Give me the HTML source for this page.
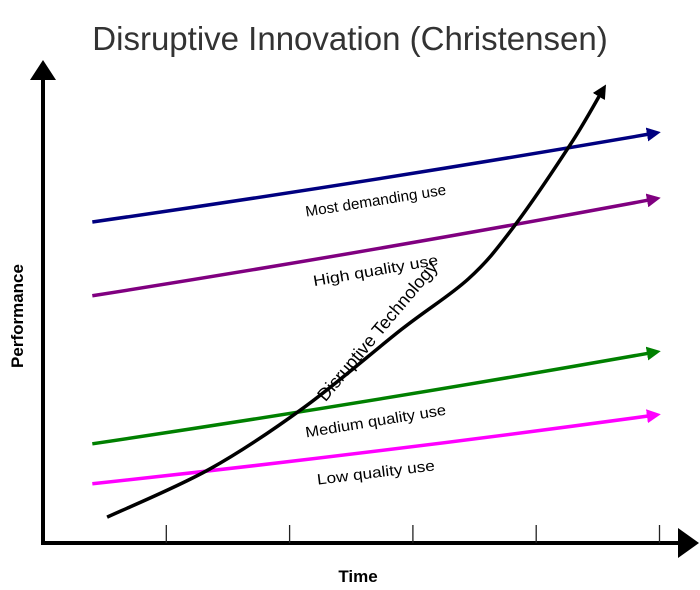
<!DOCTYPE html>
<html><head><meta charset="utf-8"><style>
html,body{margin:0;padding:0;background:#fff;}
svg{display:block;font-family:"Liberation Sans",sans-serif;}
</style></head><body>
<svg width="700" height="590" viewBox="0 0 700 590">
<defs>
<marker id="ah" markerWidth="4" markerHeight="4" refX="2.2" refY="2" orient="auto" markerUnits="strokeWidth"><path d="M0,0 L4,2 L0,4 z" fill="context-stroke"/></marker>
</defs>
<text x="350" y="50" text-anchor="middle" font-size="33" fill="#333">Disruptive Innovation (Christensen)</text>
<g id="axes">
<line x1="43" y1="80" x2="43" y2="544" stroke="#000" stroke-width="4"/>
<polygon points="30,80 56,80 43,60" fill="#000"/>
<line x1="41" y1="543" x2="680" y2="543" stroke="#000" stroke-width="4"/>
<polygon points="678,528 678,558 699,543" fill="#000"/>
</g>
<g id="ticks"></g>
<g id="series"></g>
<text x="358" y="582" text-anchor="middle" font-size="17" font-weight="bold">Time</text>
<text transform="translate(23,316) rotate(-90)" text-anchor="middle" font-size="17" font-weight="bold">Performance</text>
</svg>
<script>
const tickValues=[1,2,3,4,5];
const seriesNames=["Most demanding use","High quality use","Medium quality use","Low quality use"];
const seriesColors=["#000080","#800080","#008000","#ff00ff"];
const startValues=[6.83,5.26,2.11,1.26];
const endValues=[8.72,7.32,4.06,2.72];
const lineTimes=[0.4,4.96];
const techTimes=[0.52,1.35,2.12,2.91,3.45,3.81,4.28,4.54];
const techValues=[0.55,1.57,2.89,4.55,5.62,6.70,8.49,9.64];
const NS="http://www.w3.org/2000/svg";
const xs=t=>43+t*123.3, ys=p=>543-p*47;
const tg=document.getElementById('ticks');
tickValues.forEach(v=>{
  const l=document.createElementNS(NS,'line');
  l.setAttribute('x1',xs(v));l.setAttribute('x2',xs(v));l.setAttribute('y1',525);l.setAttribute('y2',543);
  l.setAttribute('stroke','#222');l.setAttribute('stroke-width','1.3');
  
  
  tg.appendChild(l);
});
const sg=document.getElementById('series');
seriesNames.forEach((n,i)=>{
  const x1=xs(lineTimes[0]),y1=ys(startValues[i]),x2=xs(lineTimes[1]),y2=ys(endValues[i]);
  const p=document.createElementNS(NS,'path');
  const mx=(x1+x2)/2,my=(y1+y2)/2+4;
  p.setAttribute('d',`M${x1},${y1} Q${mx},${my} ${x2},${y2}`);
  p.setAttribute('stroke',seriesColors[i]);p.setAttribute('stroke-width','3.5');p.setAttribute('fill','none');
  p.setAttribute('marker-end','url(#ah)');
  
  
  sg.appendChild(p);
  const ang=Math.atan2(y2-y1,x2-x1)*180/Math.PI;
  const lx=(x1+x2)/2+3, ly=(y1+y2)/2+28;
  const t=document.createElementNS(NS,'text');
  t.setAttribute('transform',`translate(${lx},${ly}) rotate(${ang})`);
  t.setAttribute('text-anchor','middle');t.setAttribute('font-size','15');
  t.setAttribute('textLength', n.length*7.9);t.setAttribute('lengthAdjust','spacingAndGlyphs');
  t.textContent=n;
  
  
  sg.appendChild(t);
});
// disruptive technology curve (Catmull-Rom)
const pts=techTimes.map((t,i)=>[xs(t),ys(techValues[i])]);
let d=`M${pts[0][0]},${pts[0][1]}`;
for(let i=0;i<pts.length-1;i++){
  const p0=pts[Math.max(0,i-1)],p1=pts[i],p2=pts[i+1],p3=pts[Math.min(pts.length-1,i+2)];
  const c1=[p1[0]+(p2[0]-p0[0])/6,p1[1]+(p2[1]-p0[1])/6];
  const c2=[p2[0]-(p3[0]-p1[0])/6,p2[1]-(p3[1]-p1[1])/6];
  d+=` C${c1[0]},${c1[1]} ${c2[0]},${c2[1]} ${p2[0]},${p2[1]}`;
}
const c=document.createElementNS(NS,'path');
c.setAttribute('d',d);c.setAttribute('stroke','#000');c.setAttribute('stroke-width','3.5');c.setAttribute('fill','none');
c.setAttribute('marker-end','url(#ah)');


sg.appendChild(c);
const dt=document.createElementNS(NS,'text');
dt.setAttribute('transform','translate(382,335) rotate(-50)');
dt.setAttribute('text-anchor','middle');dt.setAttribute('font-size','18');
dt.textContent='Disruptive Technology';


sg.appendChild(dt);
</script>
</body></html>
